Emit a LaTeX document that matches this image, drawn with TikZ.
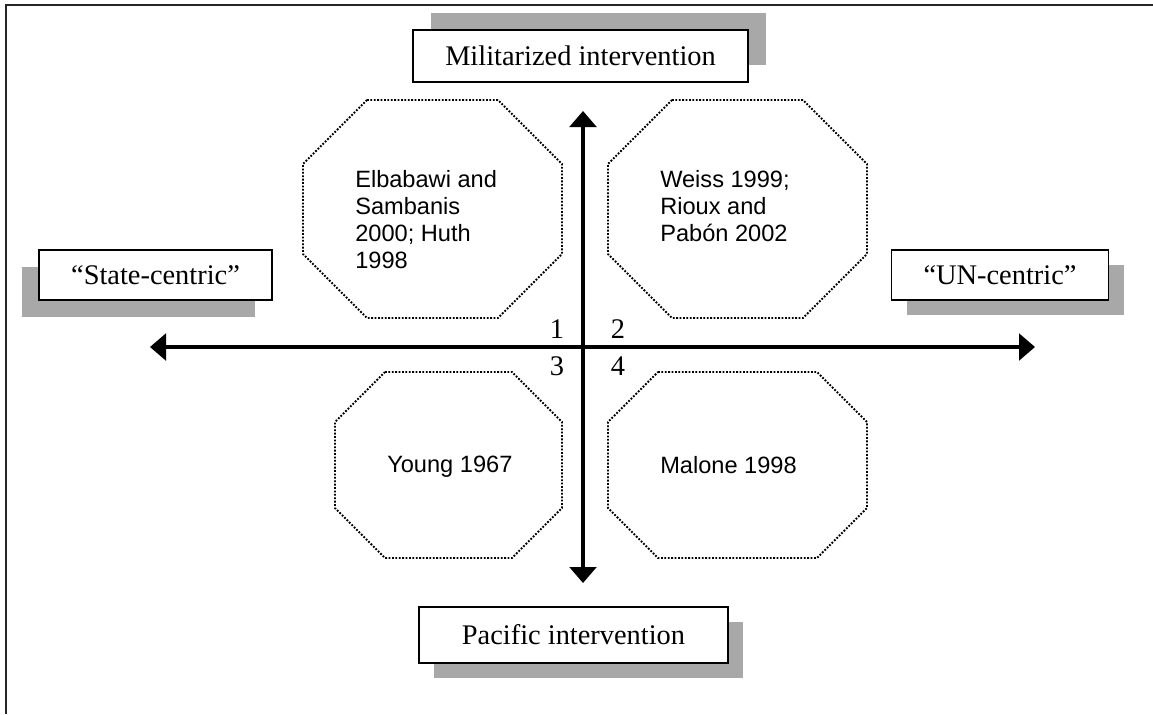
\documentclass[tikz,border=0pt]{standalone}
\usepackage{fontspec}
\setmainfont{Liberation Serif}
\newfontfamily\arialf{Liberation Sans}
\usetikzlibrary{arrows.meta,shadows}
\definecolor{shadowgray}{gray}{0.66}
\tikzset{
  lbl/.style={draw=black, line width=1.4pt, fill=white, inner sep=0pt,
    font=\fontsize{21.3pt}{25pt}\selectfont},
  shUR/.style={general shadow={fill=shadowgray, draw=none, shadow xshift=13.5pt, shadow yshift=12.75pt}},
  shDR/.style={general shadow={fill=shadowgray, draw=none, shadow xshift=11.5pt, shadow yshift=-11.5pt}},
  shDL/.style={general shadow={fill=shadowgray, draw=none, shadow xshift=-13pt, shadow yshift=-13pt}},
  dotline/.style={line width=1.35pt, dash pattern=on 1.35pt off 1.2pt},
  axisline/.style={line width=2.5pt, {Triangle[width=20pt,length=12pt]}-{Triangle[width=20pt,length=12pt]}},
  reftext/.style={font=\arialf\fontsize{17.7pt}{20.25pt}\selectfont, align=left, anchor=north west, inner sep=0pt},
  digit/.style={font=\fontsize{21.3pt}{25pt}\selectfont, anchor=base, inner sep=0pt},
  frameline/.style={line width=1.4pt, draw=black!85}
}
\newcommand\octagon[5]{%
  \draw[dotline] ({#1+#5},#2) -- ({#3-#5},#2) -- (#3,{#2+#5}) -- (#3,{#4-#5})
    -- ({#3-#5},#4) -- ({#1+#5},#4) -- (#1,{#4-#5}) -- (#1,{#2+#5}) -- cycle;}
\begin{document}
\begin{tikzpicture}[x=0.75pt,y=-0.75pt]
\useasboundingbox (0,0) rectangle (1153,714);
% frame
\coordinate (f1) at (6,714);
\coordinate (f2) at (6,5);
\coordinate (f3) at (1153,5);
\draw[frameline] (f1) -- (f2) -- (f3);

% octagons
\octagon{303}{100}{562}{318}{64}
\octagon{608}{100}{867}{318}{64}
\octagon{335}{372}{562}{558}{50}
\octagon{608}{372}{867}{558}{50}

\node[reftext] (elb) at (355,170) {Elbabawi and\\Sambanis\\2000; Huth\\1998};
\node[reftext] (wei) at (660,170) {Weiss 1999;\\Rioux and\\Pab\'on 2002};
\node[reftext] (you) at (387,456) {Young 1967};
\node[reftext] (mal) at (660,456) {Malone 1998};

% axes
\coordinate (L) at (150,347);
\coordinate (R) at (1035,347);
\coordinate (T) at (583,111);
\coordinate (B) at (583,583);
\draw[axisline] (L) -- (R);
\draw[axisline] (T) -- (B);

% labels
\node[lbl, shUR, minimum width=251.25pt, minimum height=39pt] (mil) at (580.5,56) {Militarized intervention};
\node[lbl, shDR, minimum width=231.75pt, minimum height=42pt] (pac) at (573.5,635) {Pacific intervention};
\node[lbl, shDL, minimum width=174.75pt, minimum height=37.5pt] (sta) at (155.5,275) {``State-centric''};
\node[lbl, shDR, minimum width=162.75pt, minimum height=37.5pt] (unc) at (1000,275) {``UN-centric''};

% quadrant numbers
\node[digit] (q1) at (557,338) {1};
\node[digit] (q2) at (618,338) {2};
\node[digit] (q3) at (557,375) {3};
\node[digit] (q4) at (618,375) {4};
\end{tikzpicture}
\end{document}
